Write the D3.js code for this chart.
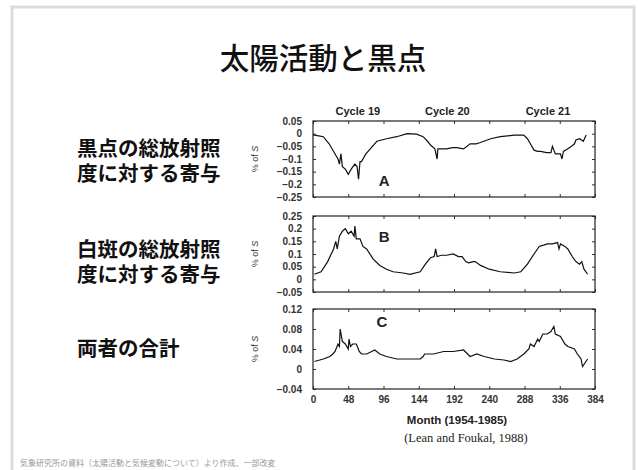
<!DOCTYPE html>
<html>
<head>
<meta charset="utf-8">
</head>
<body style="margin:0;background:#fff">
<style>
    text { font-family: "Liberation Sans", Arial, sans-serif; }
    .jp { font-family: "Noto Sans CJK JP", sans-serif; fill: #111; }
    .tick text { font-size: 10px; fill: #333; font-weight: bold; }
    .frame { fill: none; stroke: #222; stroke-width: 1.2px; }
    .curve { fill: none; stroke: #111; stroke-width: 1.2px; }
</style>
<script src="https://cdn.jsdelivr.net/npm/d3@7"></script>
<script>

    var width = 638, height = 470;

    // months and values (panel A: sunspot blocking)
    var monthsA = [0, 6, 14, 22, 30, 34, 36, 38, 40, 44, 46, 48, 52, 57, 60, 62, 64, 66, 72, 78, 87, 100, 114, 128, 141, 150, 156, 160, 166, 169, 170, 174, 182, 190, 196, 205, 214, 222, 228, 242, 255, 274, 287, 292, 296, 301, 306, 310, 318, 324, 326, 330, 337, 339, 341, 347, 352, 356, 358, 363, 368, 372];
    var valuesA = [-0.005, -0.008, -0.012, -0.04, -0.08, -0.1, -0.12, -0.08, -0.13, -0.14, -0.15, -0.16, -0.14, -0.12, -0.13, -0.18, -0.11, -0.11, -0.08, -0.06, -0.03, -0.02, -0.012, 0, -0.002, -0.012, -0.03, -0.045, -0.06, -0.1, -0.06, -0.06, -0.06, -0.055, -0.055, -0.06, -0.04, -0.04, -0.035, -0.02, -0.012, -0.006, -0.006, -0.02, -0.04, -0.065, -0.07, -0.07, -0.075, -0.075, -0.05, -0.08, -0.08, -0.1, -0.07, -0.06, -0.05, -0.04, -0.025, -0.02, -0.03, -0.005];

    // panel B: faculae
    var monthsB = [2, 11, 20, 28, 31, 33, 36, 40, 44, 48, 52, 56, 57, 59, 64, 68, 73, 82, 91, 100, 109, 123, 132, 146, 153, 160, 165, 167, 169, 175, 182, 191, 198, 203, 208, 212, 218, 221, 228, 240, 255, 274, 283, 292, 301, 308, 314, 319, 326, 333, 335, 337, 343, 347, 353, 358, 363, 366, 369, 374];
    var valuesB = [0.02, 0.03, 0.07, 0.12, 0.15, 0.12, 0.17, 0.19, 0.2, 0.18, 0.19, 0.17, 0.21, 0.16, 0.16, 0.13, 0.12, 0.08, 0.055, 0.04, 0.03, 0.025, 0.02, 0.03, 0.06, 0.085, 0.09, 0.12, 0.09, 0.095, 0.095, 0.1, 0.09, 0.09, 0.07, 0.065, 0.07, 0.07, 0.055, 0.04, 0.03, 0.025, 0.03, 0.06, 0.1, 0.13, 0.135, 0.14, 0.14, 0.145, 0.12, 0.14, 0.13, 0.12, 0.09, 0.07, 0.06, 0.07, 0.04, 0.02];

    // panel C: sum of both
    var monthsC = [2, 14, 23, 27, 30, 34, 36, 37, 40, 44, 48, 49, 51, 54, 59, 63, 66, 73, 80, 84, 91, 100, 114, 137, 146, 150, 152, 164, 178, 191, 205, 214, 223, 233, 247, 260, 269, 278, 287, 294, 296, 301, 306, 308, 313, 319, 324, 328, 330, 337, 343, 347, 356, 360, 365, 367, 374];
    var valuesC = [0.015, 0.02, 0.025, 0.03, 0.035, 0.05, 0.045, 0.08, 0.055, 0.05, 0.04, 0.06, 0.045, 0.05, 0.05, 0.035, 0.03, 0.03, 0.035, 0.038, 0.03, 0.025, 0.02, 0.02, 0.02, 0.025, 0.03, 0.03, 0.035, 0.035, 0.038, 0.025, 0.03, 0.025, 0.02, 0.018, 0.015, 0.02, 0.03, 0.04, 0.05, 0.045, 0.06, 0.055, 0.07, 0.07, 0.075, 0.085, 0.07, 0.065, 0.05, 0.045, 0.04, 0.03, 0.02, 0.005, 0.02];

    var xTicks = [0, 48, 96, 144, 192, 240, 288, 336, 384];
    var xTickLabels = ["0", "48", "96", "144", "192", "240", "288", "336", "384"];
    var ticksA = [0.05, 0, -0.05, -0.1, -0.15, -0.2, -0.25];
    var ticksB = [0.25, 0.2, 0.15, 0.1, 0.05, 0, -0.05];
    var ticksC = [0.12, 0.08, 0.04, 0, -0.04];
    var cycles = ["Cycle 19", "Cycle 20", "Cycle 21"];
    var cycleMonths = [61, 183, 320];

    var svg = d3.select("body").append("svg")
        .attr("width", width)
        .attr("height", height);

    // slide frame
    svg.append("path")
        .attr("d", "M12,470 V7 H634 V470")
        .attr("fill", "none")
        .attr("stroke", "#dcdcdc")
        .attr("stroke-width", 3);

    svg.append("text")
        .attr("class", "jp")
        .attr("x", 323).attr("y", 69)
        .attr("text-anchor", "middle")
        .style("font-size", "29.5px")
        .style("font-weight", 500)
        .text("太陽活動と黒点");

    var x = d3.scaleLinear().domain([0, 384]).range([313, 595]);

    var panels = [
        {months: monthsA, values: valuesA, ticks: ticksA, top: 121, bottom: 197, letter: "A", lm: 97, lv: -0.183,
            jp: ["黒点の総放射照", "度に対する寄与"], jy: 150},
        {months: monthsB, values: valuesB, ticks: ticksB, top: 216, bottom: 292, letter: "B", lm: 97, lv: 0.17,
            jp: ["白斑の総放射照", "度に対する寄与"], jy: 251},
        {months: monthsC, values: valuesC, ticks: ticksC, top: 309, bottom: 389, letter: "C", lm: 94, lv: 0.096,
            jp: ["両者の合計"], jy: 350}
    ];

    var fmt = d3.format(".2~f");

    panels.forEach(function (p, i) {
        var y = d3.scaleLinear().domain(d3.extent(p.ticks)).range([p.bottom, p.top]);

        var g = svg.append("g");

        // inward ticks on all four sides
        g.append("g").attr("transform", "translate(0," + p.bottom + ")")
            .call(d3.axisBottom(x).tickValues(xTicks).tickSize(-3).tickPadding(7)
                .tickFormat(i === 2 ? function (d, k) { return xTickLabels[k]; } : ""))
            .call(function (a) { a.select(".domain").remove(); });
        g.append("g").attr("transform", "translate(0," + p.top + ")")
            .call(d3.axisTop(x).tickValues(xTicks).tickSize(-3).tickFormat(""))
            .call(function (a) { a.select(".domain").remove(); });
        g.append("g").attr("transform", "translate(313,0)")
            .call(d3.axisLeft(y).tickValues(p.ticks).tickSize(-3).tickPadding(11)
                .tickFormat(function (d) { return fmt(d).replace("-", "\u2212"); }))
            .call(function (a) { a.select(".domain").remove(); });
        g.append("g").attr("transform", "translate(595,0)")
            .call(d3.axisRight(y).tickValues(p.ticks).tickSize(-3).tickFormat(""))
            .call(function (a) { a.select(".domain").remove(); });
        g.selectAll(".tick line").attr("stroke", "#333");

        g.append("rect").attr("class", "frame")
            .attr("x", 313).attr("y", p.top)
            .attr("width", 282).attr("height", p.bottom - p.top);

        var line = d3.line()
            .x(function (d, k) { return x(p.months[k]); })
            .y(function (d) { return y(d); });
        g.append("path").attr("class", "curve").attr("d", line(p.values));

        g.append("text")
            .attr("x", x(p.lm)).attr("y", y(p.lv))
            .attr("text-anchor", "middle")
            .attr("dominant-baseline", "central")
            .style("font-size", "15px").style("font-weight", "bold").attr("fill", "#222")
            .text(p.letter);

        var yl = g.append("text")
            .attr("transform", "translate(258," + ((p.top + p.bottom) / 2) + ") rotate(-90)")
            .attr("text-anchor", "middle")
            .style("font-size", "9px").attr("fill", "#333");
        yl.append("tspan").text("% of ");
        yl.append("tspan").style("font-style", "italic").text("S");

        // left-hand label, one text element with a tspan per line
        var jt = svg.append("text")
            .attr("class", "jp")
            .attr("x", 77).attr("y", p.jy)
            .attr("dominant-baseline", "middle")
            .style("font-size", "20.5px").style("font-weight", "bold");
        jt.selectAll("tspan").data(p.jp).enter().append("tspan")
            .attr("x", 77)
            .attr("dy", function (d, k) { return k === 0 ? 0 : 25; })
            .text(function (d) { return d; });
    });

    svg.selectAll(".cycle").data(cycles).enter().append("text")
        .attr("class", "cycle")
        .attr("x", function (d, k) { return x(cycleMonths[k]); })
        .attr("y", 115)
        .attr("text-anchor", "middle")
        .style("font-size", "11px").style("font-weight", "bold").attr("fill", "#222")
        .text(function (d) { return d; });

    svg.append("text")
        .attr("x", 457).attr("y", 424)
        .attr("text-anchor", "middle")
        .style("font-size", "11.5px").style("font-weight", "bold").attr("fill", "#222")
        .text("Month (1954-1985)");

    svg.append("text")
        .attr("x", 466).attr("y", 442)
        .attr("text-anchor", "middle")
        .style("font-family", "'Liberation Serif', serif")
        .style("font-size", "12.5px").attr("fill", "#222")
        .text("(Lean and Foukal, 1988)");

    svg.append("text")
        .attr("class", "jp")
        .attr("x", 20).attr("y", 466)
        .style("font-size", "8px").style("fill", "#999")
        .text("気象研究所の資料（太陽活動と気候変動について）より作成、一部改変");

</script>
</body>
</html>
